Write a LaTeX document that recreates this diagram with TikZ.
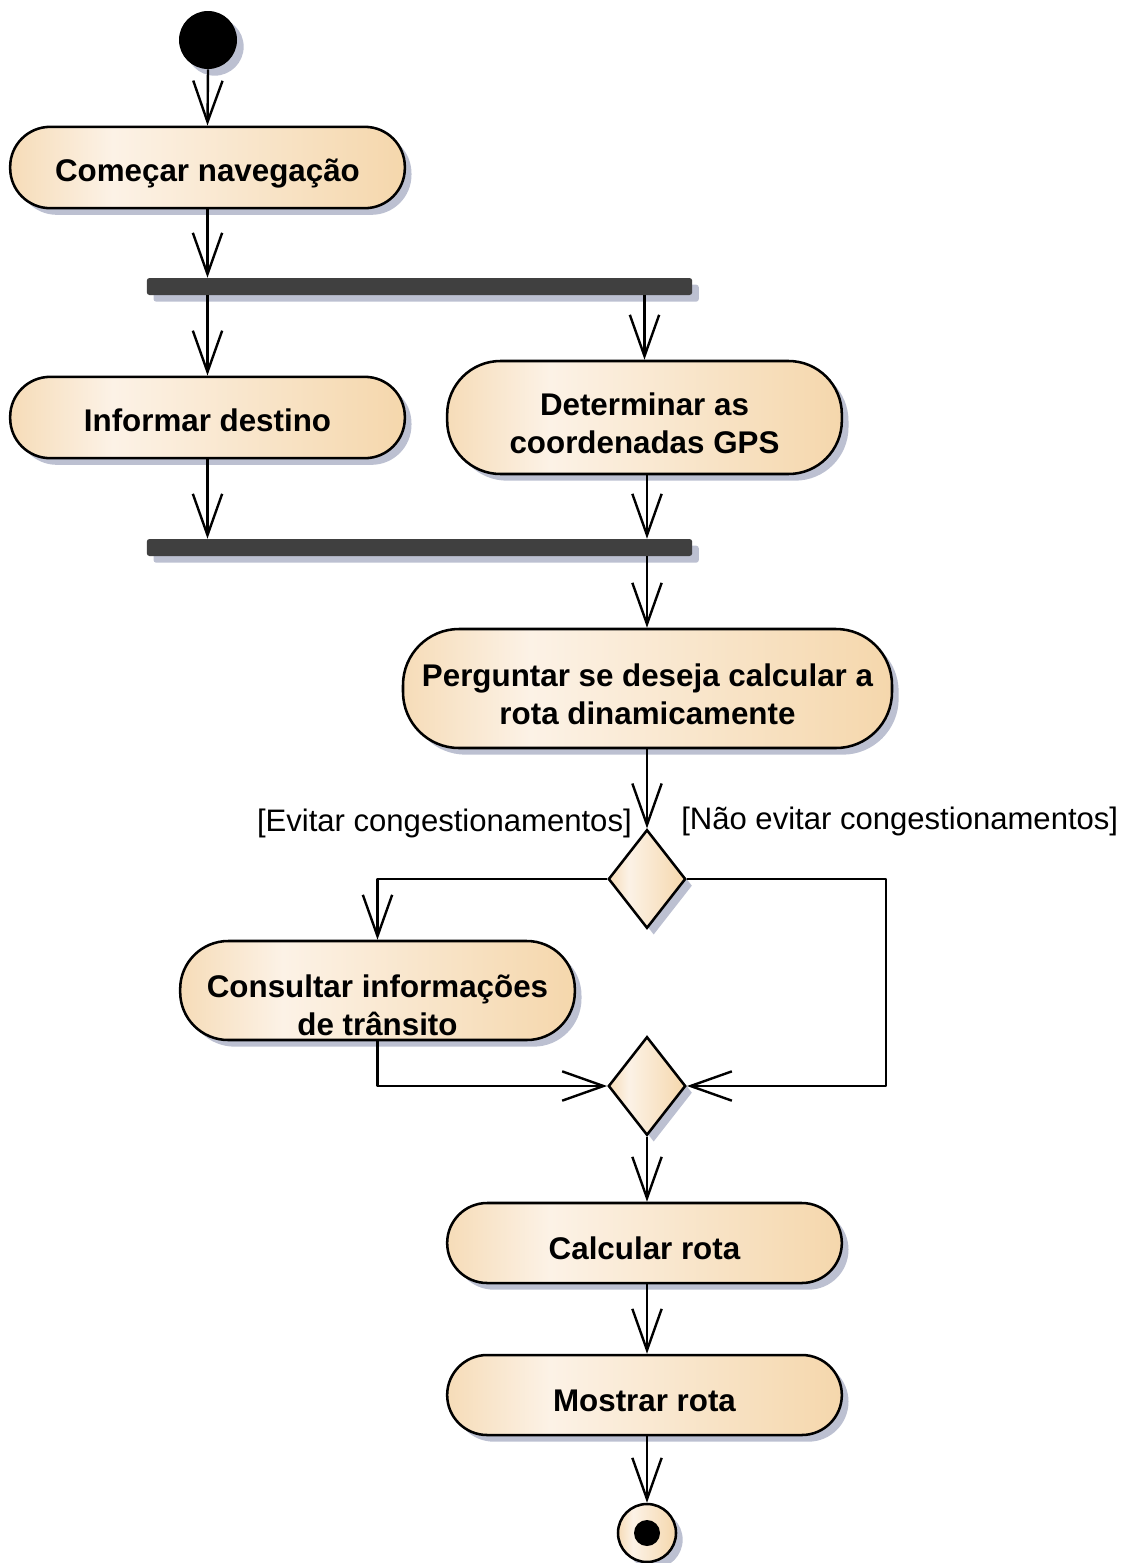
\documentclass[tikz,border=0pt]{standalone}
\usepackage{fontspec}
\setmainfont{Liberation Sans}
\usetikzlibrary{arrows.meta,shapes.geometric,shadows}
\definecolor{peachA}{HTML}{F6DCB8}
\definecolor{peachL}{HTML}{FCF2E6}
\definecolor{peachB}{HTML}{F5D7AC}
\definecolor{shadowc}{HTML}{BCC0D1}
\definecolor{barc}{HTML}{404040}
\pgfdeclarehorizontalshading{actfill}{100bp}{color(0bp)=(peachA); color(25bp)=(peachA); color(38bp)=(peachL); color(75bp)=(peachB); color(100bp)=(peachB)}
\newcommand{\sdrop}[1]{\rule{0pt}{#1}}
\tikzset{
 shad/.style={drop shadow={shadow xshift=5pt, shadow yshift=-5pt, fill=shadowc, opacity=1}},
 act/.style={draw=black, line width=1.9pt, shade, shading=actfill, shad, rounded corners=30pt, minimum width=296pt, minimum height=61pt, inner sep=0pt, align=center, font=\fontsize{23.5pt}{28.5pt}\selectfont\bfseries},
 bar/.style={fill=barc, rounded corners=2pt, shad, minimum width=409pt, minimum height=12.75pt, inner sep=0pt},
 dec/.style={diamond, draw, line width=1.9pt, shade, shading=actfill, shad, minimum width=58pt, minimum height=74pt, inner sep=0pt},
 startc/.style={circle, fill=black, shad, minimum size=43.5pt, inner sep=0pt},
 endc/.style={circle, draw, line width=1.9pt, shade, shading=actfill, shad, minimum size=43.5pt, inner sep=0pt},
 endin/.style={circle, fill=black, minimum size=19.5pt, inner sep=0pt},
 arr/.style={line width=1.8pt, -{Straight Barb[length=31pt,width=22pt,line width=1.8pt]}, line join=round},
 lbl/.style={font=\fontsize{23.3pt}{29pt}\selectfont, inner sep=0pt}
}
\begin{document}
\begin{tikzpicture}[x=0.75pt,y=-0.75pt]
\useasboundingbox (0,0) rectangle (1130,1563);
\node[startc] (s) at (208,40) {};
\node[act] (a1) at (207.5,167.5) {\sdrop{26.5pt}Começar navegação};
\node[bar] (f1) at (419.5,286.5) {};
\node[act] (a2) at (207.5,417.5) {\sdrop{21pt}Informar destino};
\node[act, minimum height=84.75pt, rounded corners=40pt] (a3) at (644.5,417.5) {\sdrop{25pt}Determinar as\\coordenadas GPS};
\node[bar] (f2) at (419.5,547.5) {};
\node[act, minimum width=366.75pt, minimum height=89.25pt, rounded corners=42pt] (a4) at (647.5,688.5) {\sdrop{26pt}Perguntar se deseja calcular a\\rota dinamicamente};
\node[dec] (d1) at (647,879) {};
\node[act, minimum height=74.25pt, rounded corners=36pt] (a5) at (377.5,990.5) {\sdrop{38.5pt}Consultar informações\\de trânsito};
\node[dec] (d2) at (647,1086) {};
\node[act, minimum height=60pt] (a6) at (644.5,1243) {\sdrop{25pt}Calcular rota};
\node[act, minimum height=60pt] (a7) at (644.5,1395) {\sdrop{25pt}Mostrar rota};
\node[endc] (e) at (647,1533) {};
\node[endin] (ei) at (647,1533) {};
\coordinate (rt) at (886,879);
\node[lbl, anchor=base east] (l1) at (632,831) {[Evitar congestionamentos]};
\node[lbl, anchor=base west] (l2) at (681,829) {[Não evitar congestionamentos]};
\draw[arr] (s.south) -- (a1.north);
\draw[arr] (a1.south) -- (f1.north -| a1.south);
\draw[arr] (f1.south -| a2.north) -- (a2.north);
\draw[arr] (f1.south -| a3.north) -- (a3.north);
\draw[arr] (a2.south) -- (f2.north -| a2.south);
\draw[arr] (a3.south -| d1.north) -- (f2.north -| d1.north);
\draw[arr] (f2.south -| d1.north) -- (a4.north -| d1.north);
\draw[arr] (a4.south -| d1.north) -- (d1.north);
\draw[arr] (d1.west) -| (a5.north);
\draw[arr] (d1.east) -- (rt) |- (d2.east);
\draw[arr] (a5.south) |- (d2.west);
\draw[arr] (d2.south) -- (a6.north -| d2.south);
\draw[arr] (a6.south -| e.north) -- (a7.north -| e.north);
\draw[arr] (a7.south -| e.north) -- (e.north);
\end{tikzpicture}
\end{document}
